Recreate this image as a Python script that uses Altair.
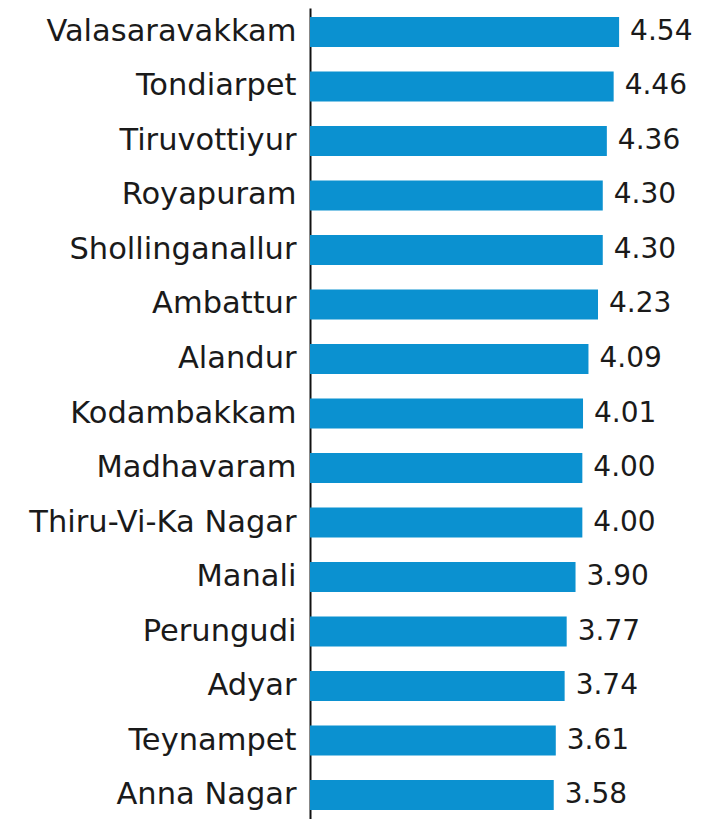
import altair as alt
import pandas as pd

zones = ["Valasaravakkam", "Tondiarpet", "Tiruvottiyur", "Royapuram", "Shollinganallur",
         "Ambattur", "Alandur", "Kodambakkam", "Madhavaram", "Thiru-Vi-Ka Nagar",
         "Manali", "Perungudi", "Adyar", "Teynampet", "Anna Nagar"]
values = [4.54, 4.46, 4.36, 4.30, 4.30, 4.23, 4.09, 4.01, 4.00, 4.00, 3.90, 3.77, 3.74, 3.61, 3.58]

df = pd.DataFrame({"zone": zones, "value": values})
df["label"] = df["value"].map(lambda v: f"{v:.2f}")

y = alt.Y("zone:N", sort=zones,
          scale=alt.Scale(paddingInner=0.45, paddingOuter=0.165),
          axis=alt.Axis(title=None, ticks=False, domain=True, domainColor="#111111",
                        domainWidth=2, labelFont="DejaVu Sans", labelFontSize=30.5,
                        labelColor="#1a1a1a", labelPadding=14, labelLimit=400))
x = alt.X("value:Q", scale=alt.Scale(domain=[0, 5.64], nice=False, zero=True),
          axis=None)

bars = alt.Chart(df).mark_bar(color="#0b91d0").encode(x=x, y=y)
text = alt.Chart(df).mark_text(align="left", baseline="middle", dx=11, font="DejaVu Sans",
                               fontSize=28, color="#1a1a1a").encode(
    x=x, y=alt.Y("zone:N", sort=zones), text="label:N")

chart = (bars + text).properties(
    width=384, height=811,
    padding={"left": 302, "top": 0, "right": 0, "bottom": 0},
    autosize=alt.AutoSizeParams(type="none"),
).configure_view(stroke=None)

chart.save("out.html", embed_options={"renderer": "svg", "actions": False})
